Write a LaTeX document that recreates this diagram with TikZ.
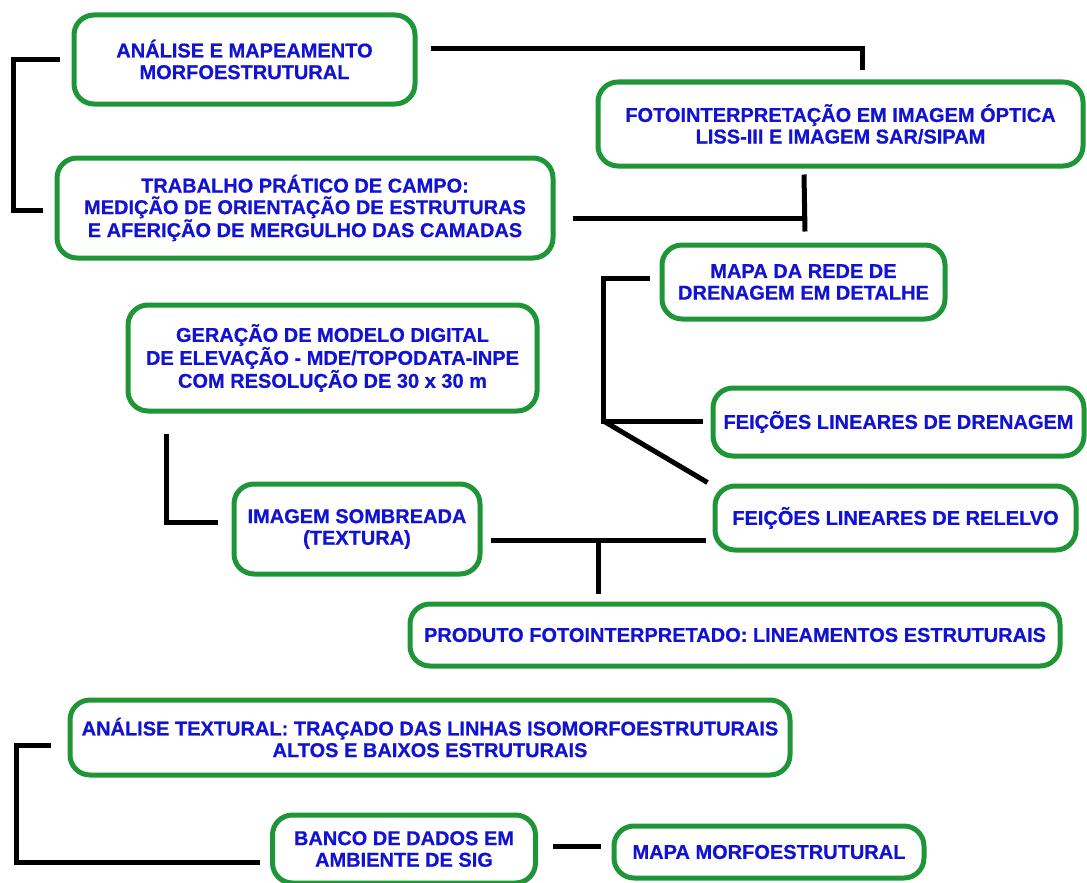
\documentclass[tikz,border=0pt]{standalone}
\usepackage{fontspec}
\setmainfont{Liberation Sans}
\newfontfamily\boxfont{Liberation Sans Bold}[FakeBold=0.6]
\usetikzlibrary{calc}
\definecolor{boxgreen}{RGB}{30,150,55}
\definecolor{textblue}{RGB}{18,18,210}
\begin{document}
\begin{tikzpicture}[x=1pt,y=-1pt,
  stepbox/.style={draw=boxgreen, line width=5pt, rounded corners=20pt,
    fill=white, inner sep=0pt, align=center, text=textblue,
    font=\boxfont\fontsize{20}{21.6}\selectfont},
  link/.style={draw=black, line width=5pt}]
\useasboundingbox (0,0) rectangle (1087,883);

% boxes
\node[stepbox, minimum width=341pt, minimum height=89pt] (A) at (244.5,59.5)
  {ANÁLISE E MAPEAMENTO\\MORFOESTRUTURAL};
\node[stepbox, minimum width=485pt, minimum height=84pt] (C) at (840.5,124)
  {FOTOINTERPRETAÇÃO EM IMAGEM ÓPTICA\\LISS-III E IMAGEM SAR/SIPAM};
\node[stepbox, minimum width=496pt, minimum height=100pt] (B) at (305,208)
  {TRABALHO PRÁTICO DE CAMPO:\\MEDIÇÃO DE ORIENTAÇÃO DE ESTRUTURAS\\E AFERIÇÃO DE MERGULHO DAS CAMADAS};
\node[stepbox, minimum width=283pt, minimum height=74pt] (D) at (803.5,282)
  {MAPA DA REDE DE\\DRENAGEM EM DETALHE};
\node[stepbox, minimum width=409pt, minimum height=106pt] (F) at (332.5,358)
  {GERAÇÃO DE MODELO DIGITAL\\DE ELEVAÇÃO - MDE/TOPODATA-INPE\\COM RESOLUÇÃO DE 30 x 30 m};
\node[stepbox, minimum width=371pt, minimum height=68pt] (E) at (898.5,422)
  {FEIÇÕES LINEARES DE DRENAGEM};
\node[stepbox, minimum width=246pt, minimum height=90pt] (G) at (357,529)
  {IMAGEM SOMBREADA\\(TEXTURA)};
\node[stepbox, minimum width=361pt, minimum height=64pt] (H) at (895.5,518)
  {FEIÇÕES LINEARES DE RELELVO};
\node[stepbox, minimum width=650pt, minimum height=62pt] (I) at (735,635)
  {PRODUTO FOTOINTERPRETADO: LINEAMENTOS ESTRUTURAIS};
\node[stepbox, minimum width=720pt, minimum height=75pt] (J) at (430,737.5)
  {ANÁLISE TEXTURAL: TRAÇADO DAS LINHAS ISOMORFOESTRUTURAIS\\ALTOS E BAIXOS ESTRUTURAIS};
\node[stepbox, minimum width=263pt, minimum height=68pt] (K) at (404,849)
  {BANCO DE DADOS EM\\AMBIENTE DE SIG};
\node[stepbox, minimum width=310pt, minimum height=52pt] (L) at (769,852)
  {MAPA MORFOESTRUTURAL};

% connector end points, a short gap away from the boxes
\coordinate (aR) at ($(A.east)+(13,-10.5)$);
\coordinate (cT) at ($(C.north)+(21.5,-9)$);
\coordinate (aL) at ($(A.west)+(-12,0)$);
\coordinate (bL) at ($(B.west)+(-12,2)$);
\coordinate (bR) at ($(B.east)+(17,10)$);
\coordinate (cB) at ($(C.south)+(-36.5,6)$);
\coordinate (dT) at ($(D.north)+(1.5,-11)$);
\coordinate (dL) at ($(D.west)+(-10,-4)$);
\coordinate (eL) at ($(E.west)+(-8,-1)$);
\coordinate (hL) at ($(H.north west)+(-5,-1)$);
\coordinate (fB) at ($(F.south)+(-166.5,20)$);
\coordinate (gL) at ($(G.west)+(-14,-7)$);
\coordinate (gR) at ($(G.east)+(8,11)$);
\coordinate (hW) at ($(H.west)+(-7,22)$);
\coordinate (iT) at ($(I.north)+(-137,-8)$);
\coordinate (jL) at ($(J.west)+(-17,8)$);
\coordinate (kL) at ($(K.west)+(-10,13)$);
\coordinate (kR) at ($(K.east)+(15,-3)$);
\coordinate (lL) at ($(L.west)+(-11,-6)$);

% connectors
\draw[link] (aR) -| (cT);
\draw[link] (aL) -- ++(-46,0) |- (bL);
\draw[link] (cB) -- (dT);
\draw[link] (bR) -- (bR -| cB);
\draw[link] (dL) -- ++(-46,0) -- ++(0,143) coordinate (fork) -- (eL);
\draw[link] (fork) -- (hL);
\draw[link] (fB) |- (gL);
\draw[link] (gR) -- (hW);
\draw[link] (iT |- gR) -- (iT);
\draw[link] (jL) -- ++(-34,0) |- (kL);
\draw[link] (kR) -- (lL);
\end{tikzpicture}
\end{document}
